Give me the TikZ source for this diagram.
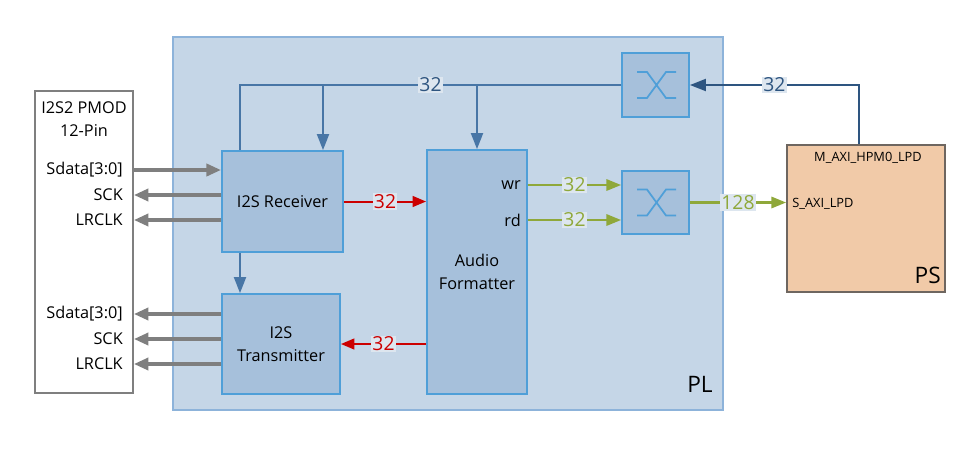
\documentclass[tikz,border=0pt]{standalone}
\usepackage{fontspec}
\setmainfont{Open Sans}
\usepackage{tikz}
\usetikzlibrary{shapes,arrows.meta}
\definecolor{plfill}{HTML}{C5D6E7}
\definecolor{plline}{HTML}{8DB3DA}
\definecolor{blkfill}{HTML}{A6C0DB}
\definecolor{blkline}{HTML}{4F9FD8}
\definecolor{busblue}{HTML}{4876A6}
\definecolor{busdark}{HTML}{2E5580}
\definecolor{sigred}{HTML}{CC0000}
\definecolor{siggreen}{HTML}{8FA83A}
\definecolor{siggray}{HTML}{7F7F7F}
\definecolor{psfill}{HTML}{F1CAA8}
\definecolor{psline}{HTML}{6E6660}
\definecolor{lblfill}{HTML}{DDE6EF}
\begin{document}
\begin{tikzpicture}[x=0.75pt,y=-0.75pt,every node/.style={inner sep=0pt},
  blk/.style={draw=blkline,fill=blkfill,line width=1.4pt,align=center,font=\fontsize{12.2}{17}\selectfont},
  txt/.style={font=\fontsize{12.2}{17}\selectfont},
  lbl/.style={fill=lblfill,inner sep=1pt,font=\fontsize{14.5}{15}\selectfont},
  gyar/.style={draw=siggray,line width=2.8pt,-{Triangle[length=11pt,width=9pt]}},
  bus/.style={draw=busblue,line width=1.6pt},
  buar/.style={bus,-{Triangle[length=12pt,width=9pt]}},
  rdar/.style={draw=sigred,line width=1.5pt,-{Triangle[length=10pt,width=8pt]}},
  gnar/.style={draw=siggreen,line width=1.6pt,-{Triangle[length=11pt,width=8.5pt]}}]
\useasboundingbox (0,0) rectangle (964,451);
% boxes
\node[draw=siggray,fill=white,line width=1.2pt,minimum width=73.5pt,minimum height=226.5pt](PM) at (84,242){};
\node[txt,align=center](PT) at (84,119){I2S2 PMOD\\12-Pin};
\node[draw=plline,fill=plfill,line width=1pt,minimum width=412.5pt,minimum height=279.75pt](PL) at (448,223.5){};
\node[font=\fontsize{17}{18}\selectfont,anchor=south east](PLT) at (713,393){PL};
\node[blk,minimum width=90.75pt,minimum height=75.75pt](RX) at (282.5,201.5){I2S Receiver};
\node[blk,minimum width=88.5pt,minimum height=75pt](TX) at (281,344){I2S\\Transmitter};
\node[blk,minimum width=75pt,minimum height=183pt](AF) at (477,272){Audio\\Formatter};
\node[blk,minimum width=50.25pt,minimum height=48pt](XT) at (655.5,85){};
\node[blk,minimum width=50.25pt,minimum height=47.25pt](XB) at (655.5,202.5){};
\node[draw=psline,fill=psfill,line width=1.4pt,minimum width=118.5pt,minimum height=110.25pt](PS) at (866,218.5){};
\node[font=\fontsize{9.6}{10}\selectfont](PSM) at (868,158){M\_AXI\_HPM0\_LPD};
\node[font=\fontsize{9.6}{10}\selectfont,anchor=west](PSS) at (792,204){S\_AXI\_LPD};
\node[font=\fontsize{17}{18}\selectfont,anchor=south east](PST) at (941,284){PS};
% crossbar marks
\foreach \n in {XT,XB}
  \draw[blkline,line width=1.3pt] ([shift={(-18.5,-13)}]\n.center) -- ++(10,0) -- ++(19,26) -- ++(10,0)
    ([shift={(-18.5,13)}]\n.center) -- ++(10,0) -- ++(19,-26) -- ++(10,0);
% pin labels
\node[txt,anchor=east](S1) at (123,170){Sdata[3:0]};
\node[txt,anchor=east](C1) at (123,195){SCK};
\node[txt,anchor=east](L1) at (123,220){LRCLK};
\node[txt,anchor=east](S2) at (123,314){Sdata[3:0]};
\node[txt,anchor=east](C2) at (123,339){SCK};
\node[txt,anchor=east](L2) at (123,364){LRCLK};
\node[txt,anchor=east](WR) at (521,185){wr};
\node[txt,anchor=east](RD) at (521,220){rd};
% pmod signals
\draw[gyar] (PM.east |- 0,170) -- (RX.west |- 0,170);
\draw[gyar] (RX.west |- 0,195) -- (PM.east |- 0,195);
\draw[gyar] (RX.west |- 0,220) -- (PM.east |- 0,220);
\draw[gyar] (TX.west |- 0,314) -- (PM.east |- 0,314);
\draw[gyar] (TX.west |- 0,339) -- (PM.east |- 0,339);
\draw[gyar] (TX.west |- 0,364) -- (PM.east |- 0,364);
% control bus
\draw[bus,draw=busdark,-{Triangle[length=12pt,width=9pt]}] (859,0 |- PS.north) |- node[pos=0.75,lbl,text=busdark]{32} (XT.east);
\draw[bus] (XT.west) -- node[lbl,text=busdark]{32} (240,85) -- (240,0 |- RX.north);
\draw[buar] (323,85) -- (323,0 |- RX.north);
\draw[buar] (477,85) -- (AF.north);
\draw[buar] (240,0 |- RX.south) -- (240,0 |- TX.north);
% audio data
\draw[rdar] (RX.east) -- node[lbl,text=sigred]{32} (AF.west |- RX.east);
\draw[rdar] (AF.west |- TX.east) -- node[lbl,text=sigred]{32} (TX.east);
\draw[gnar] (AF.east |- 0,185) -- node[lbl,text=siggreen]{32} (XB.west |- 0,185);
\draw[gnar] (AF.east |- 0,220) -- node[lbl,text=siggreen]{32} (XB.west |- 0,220);
\draw[gnar] (XB.east) -- node[lbl,text=siggreen]{128} (PS.west |- XB.east);
\end{tikzpicture}
\end{document}
